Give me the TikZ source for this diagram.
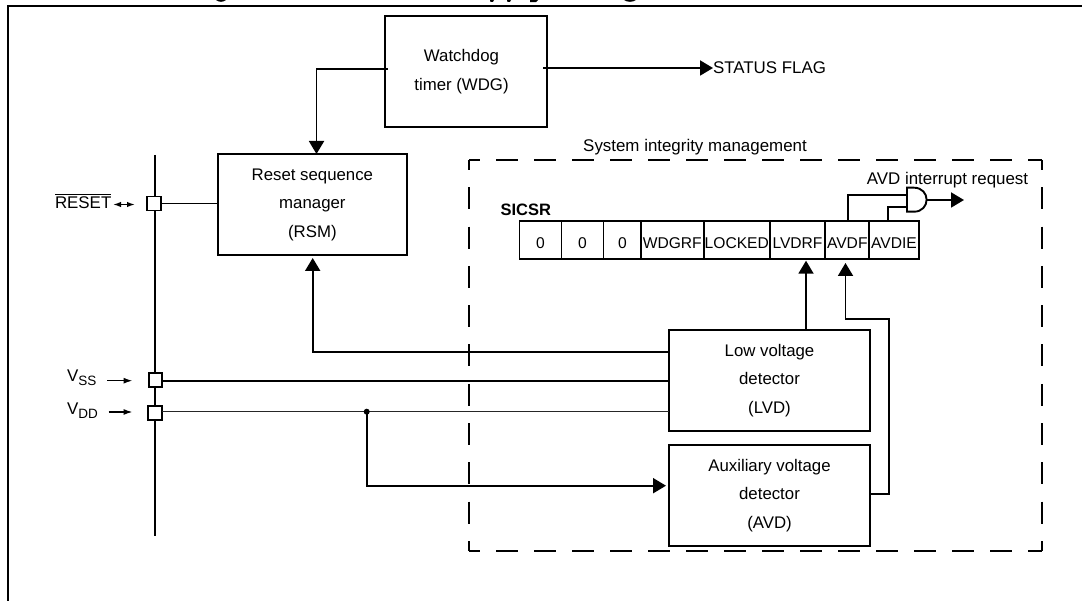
\documentclass[tikz,border=0pt]{standalone}
\usepackage{fontspec}
\setmainfont{Liberation Sans}
\usetikzlibrary{arrows.meta,calc}
\newcommand\dnl[1]{\raisebox{-2.3pt}{#1}}
\tikzset{
  lw/.style={line width=1.9pt},
  box/.style={draw=black,lw,inner sep=0pt,outer sep=0pt,align=center,font=\fontsize{16.8}{28.5}\selectfont},
  cell/.style={draw=black,lw,inner sep=0pt,outer sep=0pt,minimum height=38pt,text height=17pt,text depth=0pt,font=\fontsize{15.6}{18}\selectfont},
  pad/.style={draw=black,fill=white,line width=1.9pt,inner sep=0pt,outer sep=0pt,minimum width=13.5pt,minimum height=14pt},
  lbl/.style={inner sep=0pt,outer sep=0pt,font=\fontsize{16.9}{20}\selectfont},
  conn/.style={lw,line join=miter},
  big/.style={conn,-{Triangle[length=13pt,width=15pt]}},
  small/.style={line width=1.5pt,-{Latex[length=9pt,width=6pt]}},
  smalltwo/.style={line width=1.5pt,{Latex[length=8pt,width=5.5pt]}-{Latex[length=8pt,width=5.5pt]}},
  dashh/.style={line width=1.7pt,dash pattern=on 22pt off 16pt,dash phase=11pt},
  dashv/.style={line width=1.7pt,dash pattern=on 22pt off 17.3pt,dash phase=12pt}
}
\begin{document}
\begin{tikzpicture}[x=1pt,y=-1pt]
\useasboundingbox (0,0) rectangle (1082,601);
% frame and cut-off title remains
\draw[line width=2pt] (8,601) -- (8,6) -- (1082,6);
\fill (216,0) .. controls (219,2.4) and (223,2.4) .. (226,0) -- cycle;
\fill (490,0) -- (490.5,1.8) -- (493,1.8) -- (494,0) -- cycle;
\fill (507,0) -- (507.5,1.8) -- (510,1.8) -- (511,0) -- cycle;
\fill (530,0) -- (530,2.2) -- (536,2.2) -- (538,0) -- cycle;
\fill (624,0) .. controls (627,2.4) and (633,2.4) .. (636,0) -- cycle;
% dashed area
\coordinate (dtl) at (469,160);
\coordinate (dtr) at (1042,160);
\coordinate (dbl) at (469,550.7);
\coordinate (dbr) at (1042,550.7);
\draw[dashh] (dtl) -- (dtr);
\draw[dashh] (dbl) -- (dbr);
\draw[dashv] (dtl) -- (dbl);
\draw[dashv] (dtr) -- (dbr);
\node[lbl] (simlabel) at (695,147) {System integrity management};
% blocks
\node[box,minimum width=162pt,minimum height=111pt] (wdg) at (466,71.5) {\raisebox{2pt}{\hspace*{-9pt}Watchdog}\\\raisebox{2pt}{\hspace*{-9pt}timer (WDG)}};
\node[box,minimum width=189.5pt,minimum height=101pt] (rsm) at (312.4,204.5) {\dnl{Reset sequence}\\\dnl{manager}\\\dnl{(RSM)}};
\node[box,minimum width=201pt,minimum height=100.7pt] (lvd) at (769.5,380.4) {\dnl{Low voltage}\\\dnl{detector}\\\dnl{(LVD)}};
\node[box,minimum width=201pt,minimum height=100.7pt] (avd) at (769.5,495.4) {\dnl{Auxiliary voltage}\\\dnl{detector}\\\dnl{(AVD)}};
% register
\node[lbl,font=\fontsize{16.5}{20}\bfseries\selectfont,anchor=west] (sicsr) at (500.5,210) {SICSR};
\node[cell,minimum width=42pt] (c0) at (540.5,240) {0};
\node[cell,minimum width=42pt] (c1) at (582.5,240) {0};
\node[cell,minimum width=38pt] (c2) at (622.5,240) {0};
\node[cell,minimum width=62.5pt] (c3) at (672.3,240) {WDGRF};
\node[cell,minimum width=66.5pt] (c4) at (736.8,240) {LOCKED};
\node[cell,minimum width=55pt] (c5) at (797.5,240) {LVDRF};
\node[cell,minimum width=44pt] (c6) at (847.3,240) {AVDF};
\node[cell,minimum width=50pt] (c7) at (894,240) {AVDIE};
\node[lbl] (avdirq) at (947.5,180) {AVD interrupt request};
% gate
\coordinate (gin1) at (907,195);
\coordinate (gin2) at (907,207);
\coordinate (gout) at (926.6,200);
\coordinate (irqend) at (964,200);
\draw[lw,fill=white,line join=miter] (907,187.7) -- (914,187.7) .. controls (922,187.7) and (926.6,193.5) .. (926.6,199.7) .. controls (926.6,206) and (922,211.7) .. (914,211.7) -- (907,211.7) -- cycle;
\draw[big] (gout) -- (irqend);
\draw[conn] (847.7,221) |- (gin1);
\draw[conn] (887.7,221) |- (gin2);
% status
\node[lbl,anchor=west] (status) at (713,68) {STATUS FLAG};
\draw[big] ([xshift=-4pt,yshift=3.5pt]wdg.east) -- (status.west);
\draw[big] ([xshift=3pt,yshift=2.5pt]wdg.west) -| (rsm.north -| 316.5,0);
% bus
\coordinate (bustop) at (155,155);
\coordinate (busbot) at (155,535.7);
\draw[line width=1.7pt] (bustop) -- (busbot);
\node[pad] (prst) at (154,203.5) {};
\node[pad] (pss) at (155.5,380) {};
\node[pad] (pdd) at (155,413) {};
\draw[conn] (prst.east) -- (rsm.west |- prst.east);
\coordinate (ssl) at (669,380.7);
\draw[conn] (pss.east |- ssl) -- (ssl);
\coordinate (ddl) at (669,411.7);
\coordinate (dot) at (366.7,411.7);
\draw[line width=1pt,black!85] (pdd.east |- ddl) -- (ddl);
\fill (dot) circle (3pt);
% lvd/avd links
\coordinate (lvdrsm) at (669,352);
\draw[big] (lvdrsm) -| (312.7,258);
\draw[big] (dot) |- (666,485.7);
\draw[big] (806,330.7) -- (806,260.7);
\draw[big] (870,493.7) -| (888.7,319) -| (845.5,263);
% pins
\node[lbl,anchor=west] (rst) at (55,203) {RESET};
\draw[line width=.8pt] (rst.west |- 0,194) -- (rst.east |- 0,194);
\draw[smalltwo] (113,204.5) -- (135,204.5);
\node[lbl,anchor=west] (vss) at (67,378) {V\raisebox{-4pt}{\fontsize{13.5}{14}\selectfont SS}};
\draw[small] (107,380.7) -- (132.6,380.7);
\node[lbl,anchor=west] (vdd) at (67,411) {V\raisebox{-4pt}{\fontsize{13.5}{14}\selectfont DD}};
\draw[small] (108.5,412) -- (132.6,412);
\end{tikzpicture}
\end{document}
